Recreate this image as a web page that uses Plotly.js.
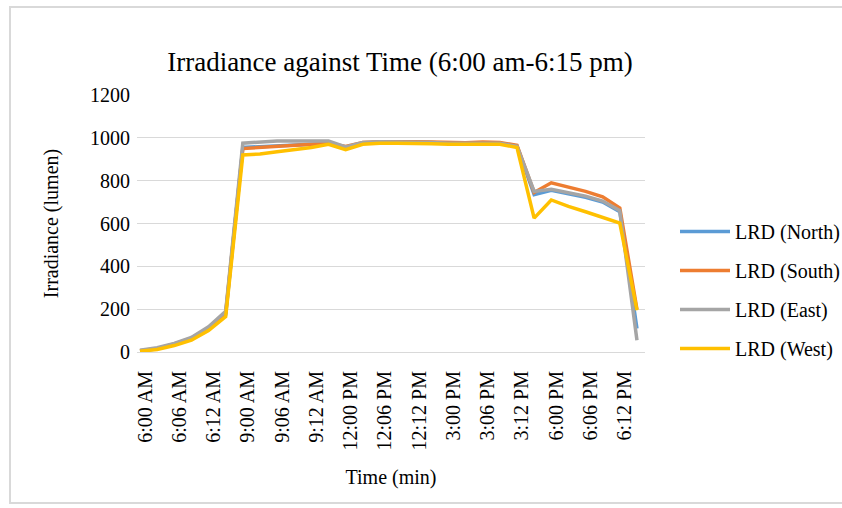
<!DOCTYPE html>
<html>
<head>
<meta charset="utf-8">
<script src="https://cdn.plot.ly/plotly-3.0.1.min.js"></script>
<style>html,body{margin:0;padding:0;background:#fff;}#chart{width:842px;height:508px;}</style>
</head>
<body>
<div id="chart"></div>
<script>
const categories = ["6:00 AM","6:03 AM","6:06 AM","6:09 AM","6:12 AM","6:15 AM",
  "9:00 AM","9:03 AM","9:06 AM","9:09 AM","9:12 AM","9:15 AM",
  "12:00 PM","12:03 PM","12:06 PM","12:09 PM","12:12 PM","12:15 PM",
  "3:00 PM","3:03 PM","3:06 PM","3:09 PM","3:12 PM","3:15 PM",
  "6:00 PM","6:03 PM","6:06 PM","6:09 PM","6:12 PM","6:15 PM"];
const tickLabels = ["6:00 AM","6:06 AM","6:12 AM","9:00 AM","9:06 AM","9:12 AM",
  "12:00 PM","12:06 PM","12:12 PM","3:00 PM","3:06 PM","3:12 PM","6:00 PM","6:06 PM","6:12 PM"];
const north = [5,15,35,62,108,175,955,958,962,966,970,975,955,975,980,980,980,978,975,975,978,975,962,735,755,740,722,700,655,110];
const south = [6,17,38,65,112,182,950,955,960,965,970,975,960,978,982,983,982,980,977,977,980,978,965,745,790,770,750,725,672,200];
const east  = [8,20,40,68,118,190,975,980,985,985,985,985,958,978,982,982,980,978,975,975,978,975,960,750,760,745,728,705,660,55];
const west  = [3,12,30,55,100,165,920,925,935,945,955,970,945,970,975,975,975,972,970,970,972,970,955,625,710,680,655,630,602,195];
const seriesNames = ["LRD (North)","LRD (South)","LRD (East)","LRD (West)"];
const seriesColors = ["#5B9BD5","#ED7D31","#A5A5A5","#FFC000"];
const seriesData = [north, south, east, west];

const FONT = "Liberation Serif, Times New Roman, serif";
const traces = seriesData.map((d, i) => ({
  type: "scatter", mode: "lines", x: categories, y: d, name: seriesNames[i],
  legendgroup: "g" + i,
  line: {color: seriesColors[i], width: 3.5}
}));

const L = 137, R = 197, T = 95, B = 156, W = 842 - L - R, H = 508 - T - B;
const layout = {
  width: 842, height: 508,
  margin: {l: L, r: R, t: T, b: B, autoexpand: false},
  paper_bgcolor: "#fff", plot_bgcolor: "#fff",
  font: {family: FONT, color: "#000", size: 20},
  title: {text: "Irradiance against Time (6:00 am-6:15 pm)", font: {family: FONT, size: 27, color: "#000"},
    xref: "container", x: 400/842, xanchor: "center", yref: "container", y: 1 - 62/508, yanchor: "middle"},
  xaxis: {
    type: "category", categoryorder: "array", categoryarray: categories,
    range: [-0.175, 29.47],
    tickmode: "array", tickvals: categories.filter((c, i) => i % 2 === 0), ticktext: tickLabels,
    tickangle: -90, tickfont: {family: FONT, size: 20, color: "#000"},
    ticklabelshift: 5, ticklabelstandoff: 14,
    showgrid: false, showline: false, zeroline: false, ticks: "",
    title: {text: "Time (min)", font: {family: FONT, size: 20, color: "#000"}, standoff: 20}
  },
  yaxis: {
    range: [0, 1200], dtick: 200, tick0: 0,
    showgrid: true, gridcolor: "#d9d9d9", gridwidth: 1,
    zeroline: true, zerolinecolor: "#d9d9d9", zerolinewidth: 1,
    showline: false, ticks: "", ticklabelstandoff: 6,
    tickfont: {family: FONT, size: 20, color: "#000"},
    title: {text: "Irradiance (lumen)", font: {family: FONT, size: 20, color: "#000"}, standoff: 26}
  },
  legend: {
    xref: "container", yref: "container",
    x: 675 / 842, xanchor: "left", y: 1 - 212 / 508, yanchor: "top",
    font: {family: FONT, size: 20, color: "#000"},
    traceorder: "grouped", tracegroupgap: 10, itemwidth: 50,
    bgcolor: "rgba(0,0,0,0)"
  },
  shapes: [{
    type: "rect", xref: "paper", yref: "paper",
    x0: (10 - L) / W, x1: (860 - L) / W, y0: (352 - 503) / H, y1: (352 - 7) / H,
    line: {color: "#d9d9d9", width: 2}, fillcolor: "rgba(0,0,0,0)", layer: "below"
  }],
  showlegend: true
};
Plotly.newPlot("chart", traces, layout, {staticPlot: true, displayModeBar: false});
</script>
</body>
</html>
